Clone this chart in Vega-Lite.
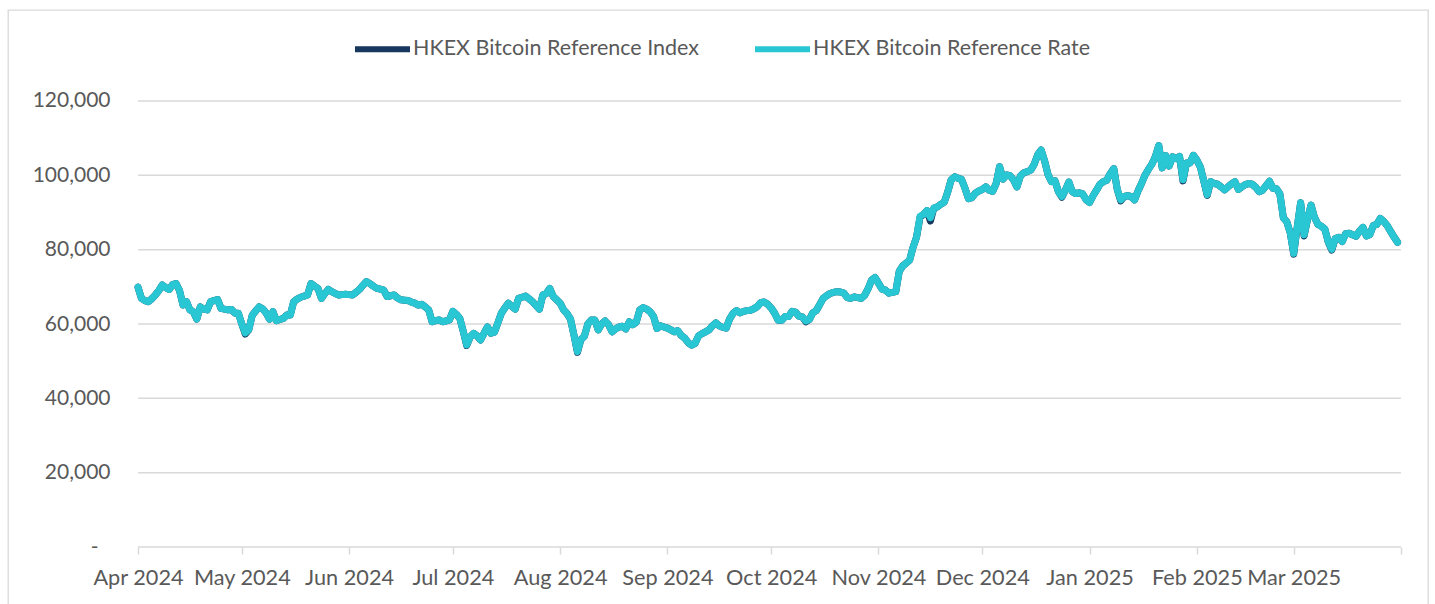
{
  "$schema": "https://vega.github.io/schema/vega-lite/v6.json",
  "autosize": "none",
  "width": 1420,
  "height": 596,
  "padding": {"left": 8, "top": 10, "right": 7, "bottom": 0},
  "background": "white",
  "config": {
    "view": {"stroke": "#D9D9D9", "strokeWidth": 1.3},
    "font": "Lato",
    "text": {"font": "Lato"}
  },
  "datasets": {
    "grid": [{"v": 0}, {"v": 20000}, {"v": 40000}, {"v": 60000}, {"v": 80000}, {"v": 100000}, {"v": 120000}],
    "btc": [
      {"date": "2024-04-01", "rate": 69900, "index": 69900},
      {"date": "2024-04-02", "rate": 66900, "index": 66900},
      {"date": "2024-04-03", "rate": 66300, "index": 66300},
      {"date": "2024-04-04", "rate": 66000, "index": 66000},
      {"date": "2024-04-05", "rate": 66800, "index": 66800},
      {"date": "2024-04-06", "rate": 67800, "index": 67800},
      {"date": "2024-04-07", "rate": 69000, "index": 69000},
      {"date": "2024-04-08", "rate": 70500, "index": 70500},
      {"date": "2024-04-09", "rate": 69800, "index": 69800},
      {"date": "2024-04-10", "rate": 69300, "index": 69300},
      {"date": "2024-04-11", "rate": 70600, "index": 70600},
      {"date": "2024-04-12", "rate": 70900, "index": 70900},
      {"date": "2024-04-13", "rate": 69000, "index": 69000},
      {"date": "2024-04-14", "rate": 65100, "index": 65100},
      {"date": "2024-04-15", "rate": 66000, "index": 66000},
      {"date": "2024-04-16", "rate": 63800, "index": 63800},
      {"date": "2024-04-17", "rate": 63300, "index": 63300},
      {"date": "2024-04-18", "rate": 61300, "index": 61300},
      {"date": "2024-04-19", "rate": 64600, "index": 64600},
      {"date": "2024-04-20", "rate": 64000, "index": 64000},
      {"date": "2024-04-21", "rate": 63800, "index": 63800},
      {"date": "2024-04-22", "rate": 66000, "index": 66000},
      {"date": "2024-04-23", "rate": 66300, "index": 66300},
      {"date": "2024-04-24", "rate": 66600, "index": 66600},
      {"date": "2024-04-25", "rate": 64200, "index": 64200},
      {"date": "2024-04-26", "rate": 64000, "index": 64000},
      {"date": "2024-04-27", "rate": 63800, "index": 63800},
      {"date": "2024-04-28", "rate": 63900, "index": 63900},
      {"date": "2024-04-29", "rate": 62900, "index": 62900},
      {"date": "2024-04-30", "rate": 62900, "index": 62900},
      {"date": "2024-05-01", "rate": 60000, "index": 60000},
      {"date": "2024-05-02", "rate": 57600, "index": 57300},
      {"date": "2024-05-03", "rate": 58400, "index": 58400},
      {"date": "2024-05-04", "rate": 62300, "index": 62300},
      {"date": "2024-05-05", "rate": 63500, "index": 63500},
      {"date": "2024-05-06", "rate": 64600, "index": 64600},
      {"date": "2024-05-07", "rate": 64100, "index": 64100},
      {"date": "2024-05-08", "rate": 63000, "index": 63000},
      {"date": "2024-05-09", "rate": 61300, "index": 61300},
      {"date": "2024-05-10", "rate": 63300, "index": 63300},
      {"date": "2024-05-11", "rate": 60900, "index": 60900},
      {"date": "2024-05-12", "rate": 61200, "index": 61200},
      {"date": "2024-05-13", "rate": 61500, "index": 61500},
      {"date": "2024-05-14", "rate": 62400, "index": 62400},
      {"date": "2024-05-15", "rate": 62400, "index": 62400},
      {"date": "2024-05-16", "rate": 66000, "index": 66000},
      {"date": "2024-05-17", "rate": 66700, "index": 66700},
      {"date": "2024-05-18", "rate": 67200, "index": 67200},
      {"date": "2024-05-19", "rate": 67500, "index": 67500},
      {"date": "2024-05-20", "rate": 67800, "index": 67800},
      {"date": "2024-05-21", "rate": 70900, "index": 70900},
      {"date": "2024-05-22", "rate": 70200, "index": 70200},
      {"date": "2024-05-23", "rate": 69600, "index": 69600},
      {"date": "2024-05-24", "rate": 66900, "index": 66900},
      {"date": "2024-05-25", "rate": 68200, "index": 68200},
      {"date": "2024-05-26", "rate": 69300, "index": 69300},
      {"date": "2024-05-27", "rate": 68700, "index": 68700},
      {"date": "2024-05-28", "rate": 68200, "index": 68200},
      {"date": "2024-05-29", "rate": 67800, "index": 67800},
      {"date": "2024-05-30", "rate": 67900, "index": 67900},
      {"date": "2024-05-31", "rate": 68000, "index": 68000},
      {"date": "2024-06-01", "rate": 67900, "index": 67900},
      {"date": "2024-06-02", "rate": 67800, "index": 67800},
      {"date": "2024-06-03", "rate": 68500, "index": 68500},
      {"date": "2024-06-04", "rate": 69300, "index": 69300},
      {"date": "2024-06-05", "rate": 70400, "index": 70400},
      {"date": "2024-06-06", "rate": 71400, "index": 71400},
      {"date": "2024-06-07", "rate": 70900, "index": 70900},
      {"date": "2024-06-08", "rate": 70200, "index": 70200},
      {"date": "2024-06-09", "rate": 69600, "index": 69600},
      {"date": "2024-06-10", "rate": 69400, "index": 69400},
      {"date": "2024-06-11", "rate": 69100, "index": 69100},
      {"date": "2024-06-12", "rate": 67400, "index": 67400},
      {"date": "2024-06-13", "rate": 67600, "index": 67600},
      {"date": "2024-06-14", "rate": 67800, "index": 67800},
      {"date": "2024-06-15", "rate": 67000, "index": 67000},
      {"date": "2024-06-16", "rate": 66500, "index": 66500},
      {"date": "2024-06-17", "rate": 66400, "index": 66400},
      {"date": "2024-06-18", "rate": 66300, "index": 66300},
      {"date": "2024-06-19", "rate": 65900, "index": 65900},
      {"date": "2024-06-20", "rate": 65600, "index": 65600},
      {"date": "2024-06-21", "rate": 65100, "index": 65100},
      {"date": "2024-06-22", "rate": 65300, "index": 65300},
      {"date": "2024-06-23", "rate": 64600, "index": 64600},
      {"date": "2024-06-24", "rate": 63800, "index": 63800},
      {"date": "2024-06-25", "rate": 60600, "index": 60600},
      {"date": "2024-06-26", "rate": 60900, "index": 60900},
      {"date": "2024-06-27", "rate": 61100, "index": 61100},
      {"date": "2024-06-28", "rate": 60600, "index": 60600},
      {"date": "2024-06-29", "rate": 60800, "index": 60800},
      {"date": "2024-06-30", "rate": 61100, "index": 61100},
      {"date": "2024-07-01", "rate": 63400, "index": 63400},
      {"date": "2024-07-02", "rate": 62600, "index": 62600},
      {"date": "2024-07-03", "rate": 61500, "index": 61500},
      {"date": "2024-07-04", "rate": 58000, "index": 58000},
      {"date": "2024-07-05", "rate": 54400, "index": 54200},
      {"date": "2024-07-06", "rate": 56500, "index": 56500},
      {"date": "2024-07-07", "rate": 57500, "index": 57500},
      {"date": "2024-07-08", "rate": 56800, "index": 56800},
      {"date": "2024-07-09", "rate": 55700, "index": 55700},
      {"date": "2024-07-10", "rate": 57500, "index": 57500},
      {"date": "2024-07-11", "rate": 59200, "index": 59200},
      {"date": "2024-07-12", "rate": 57500, "index": 57500},
      {"date": "2024-07-13", "rate": 57800, "index": 57800},
      {"date": "2024-07-14", "rate": 60300, "index": 60300},
      {"date": "2024-07-15", "rate": 62900, "index": 62900},
      {"date": "2024-07-16", "rate": 64300, "index": 64300},
      {"date": "2024-07-17", "rate": 65600, "index": 65600},
      {"date": "2024-07-18", "rate": 64800, "index": 64800},
      {"date": "2024-07-19", "rate": 64000, "index": 64000},
      {"date": "2024-07-20", "rate": 66900, "index": 66900},
      {"date": "2024-07-21", "rate": 67200, "index": 67200},
      {"date": "2024-07-22", "rate": 67500, "index": 67500},
      {"date": "2024-07-23", "rate": 66800, "index": 66800},
      {"date": "2024-07-24", "rate": 66000, "index": 66000},
      {"date": "2024-07-25", "rate": 65000, "index": 65000},
      {"date": "2024-07-26", "rate": 64000, "index": 64000},
      {"date": "2024-07-27", "rate": 67800, "index": 67800},
      {"date": "2024-07-28", "rate": 68200, "index": 68200},
      {"date": "2024-07-29", "rate": 69600, "index": 69600},
      {"date": "2024-07-30", "rate": 67400, "index": 67400},
      {"date": "2024-07-31", "rate": 66500, "index": 66500},
      {"date": "2024-08-01", "rate": 65600, "index": 65600},
      {"date": "2024-08-02", "rate": 63800, "index": 63800},
      {"date": "2024-08-03", "rate": 62800, "index": 62800},
      {"date": "2024-08-04", "rate": 61300, "index": 61300},
      {"date": "2024-08-05", "rate": 57000, "index": 57000},
      {"date": "2024-08-06", "rate": 52600, "index": 52400},
      {"date": "2024-08-07", "rate": 55800, "index": 55800},
      {"date": "2024-08-08", "rate": 56700, "index": 56700},
      {"date": "2024-08-09", "rate": 60000, "index": 60000},
      {"date": "2024-08-10", "rate": 61100, "index": 61100},
      {"date": "2024-08-11", "rate": 61100, "index": 61100},
      {"date": "2024-08-12", "rate": 58400, "index": 58400},
      {"date": "2024-08-13", "rate": 60000, "index": 60000},
      {"date": "2024-08-14", "rate": 60800, "index": 60800},
      {"date": "2024-08-15", "rate": 59800, "index": 59800},
      {"date": "2024-08-16", "rate": 57900, "index": 57900},
      {"date": "2024-08-17", "rate": 58700, "index": 58700},
      {"date": "2024-08-18", "rate": 59200, "index": 59200},
      {"date": "2024-08-19", "rate": 59400, "index": 59400},
      {"date": "2024-08-20", "rate": 58700, "index": 58700},
      {"date": "2024-08-21", "rate": 60600, "index": 60600},
      {"date": "2024-08-22", "rate": 59800, "index": 59800},
      {"date": "2024-08-23", "rate": 60500, "index": 60500},
      {"date": "2024-08-24", "rate": 63800, "index": 63800},
      {"date": "2024-08-25", "rate": 64400, "index": 64400},
      {"date": "2024-08-26", "rate": 64000, "index": 64000},
      {"date": "2024-08-27", "rate": 63300, "index": 63300},
      {"date": "2024-08-28", "rate": 62000, "index": 62000},
      {"date": "2024-08-29", "rate": 58800, "index": 58800},
      {"date": "2024-08-30", "rate": 59500, "index": 59500},
      {"date": "2024-08-31", "rate": 59200, "index": 59200},
      {"date": "2024-09-01", "rate": 58900, "index": 58900},
      {"date": "2024-09-02", "rate": 58400, "index": 58400},
      {"date": "2024-09-03", "rate": 57900, "index": 57900},
      {"date": "2024-09-04", "rate": 58200, "index": 58200},
      {"date": "2024-09-05", "rate": 56900, "index": 56900},
      {"date": "2024-09-06", "rate": 56200, "index": 56200},
      {"date": "2024-09-07", "rate": 55000, "index": 55000},
      {"date": "2024-09-08", "rate": 54300, "index": 54300},
      {"date": "2024-09-09", "rate": 54800, "index": 54800},
      {"date": "2024-09-10", "rate": 56800, "index": 56800},
      {"date": "2024-09-11", "rate": 57400, "index": 57400},
      {"date": "2024-09-12", "rate": 57900, "index": 57900},
      {"date": "2024-09-13", "rate": 58400, "index": 58400},
      {"date": "2024-09-14", "rate": 59500, "index": 59500},
      {"date": "2024-09-15", "rate": 60300, "index": 60300},
      {"date": "2024-09-16", "rate": 59500, "index": 59500},
      {"date": "2024-09-17", "rate": 59100, "index": 59100},
      {"date": "2024-09-18", "rate": 58900, "index": 58900},
      {"date": "2024-09-19", "rate": 61400, "index": 61400},
      {"date": "2024-09-20", "rate": 62900, "index": 62900},
      {"date": "2024-09-21", "rate": 63600, "index": 63600},
      {"date": "2024-09-22", "rate": 63000, "index": 63000},
      {"date": "2024-09-23", "rate": 63400, "index": 63400},
      {"date": "2024-09-24", "rate": 63600, "index": 63600},
      {"date": "2024-09-25", "rate": 63700, "index": 63700},
      {"date": "2024-09-26", "rate": 64100, "index": 64100},
      {"date": "2024-09-27", "rate": 64700, "index": 64700},
      {"date": "2024-09-28", "rate": 65800, "index": 65800},
      {"date": "2024-09-29", "rate": 65900, "index": 65900},
      {"date": "2024-09-30", "rate": 65300, "index": 65300},
      {"date": "2024-10-01", "rate": 64300, "index": 64300},
      {"date": "2024-10-02", "rate": 62900, "index": 62900},
      {"date": "2024-10-03", "rate": 61000, "index": 61000},
      {"date": "2024-10-04", "rate": 61000, "index": 61000},
      {"date": "2024-10-05", "rate": 62000, "index": 62000},
      {"date": "2024-10-06", "rate": 62000, "index": 62000},
      {"date": "2024-10-07", "rate": 63400, "index": 63400},
      {"date": "2024-10-08", "rate": 63200, "index": 63200},
      {"date": "2024-10-09", "rate": 62100, "index": 62100},
      {"date": "2024-10-10", "rate": 61900, "index": 61900},
      {"date": "2024-10-11", "rate": 60800, "index": 60600},
      {"date": "2024-10-12", "rate": 61200, "index": 61200},
      {"date": "2024-10-13", "rate": 63000, "index": 63000},
      {"date": "2024-10-14", "rate": 63600, "index": 63600},
      {"date": "2024-10-15", "rate": 65200, "index": 65200},
      {"date": "2024-10-16", "rate": 66900, "index": 66900},
      {"date": "2024-10-17", "rate": 67600, "index": 67600},
      {"date": "2024-10-18", "rate": 68200, "index": 68200},
      {"date": "2024-10-19", "rate": 68500, "index": 68500},
      {"date": "2024-10-20", "rate": 68700, "index": 68700},
      {"date": "2024-10-21", "rate": 68600, "index": 68600},
      {"date": "2024-10-22", "rate": 68300, "index": 68300},
      {"date": "2024-10-23", "rate": 67100, "index": 67100},
      {"date": "2024-10-24", "rate": 66900, "index": 66900},
      {"date": "2024-10-25", "rate": 67300, "index": 67300},
      {"date": "2024-10-26", "rate": 67100, "index": 67100},
      {"date": "2024-10-27", "rate": 66900, "index": 66900},
      {"date": "2024-10-28", "rate": 67700, "index": 67700},
      {"date": "2024-10-29", "rate": 69500, "index": 69500},
      {"date": "2024-10-30", "rate": 71800, "index": 71800},
      {"date": "2024-10-31", "rate": 72500, "index": 72500},
      {"date": "2024-11-01", "rate": 71000, "index": 71000},
      {"date": "2024-11-02", "rate": 69400, "index": 69400},
      {"date": "2024-11-03", "rate": 69100, "index": 69100},
      {"date": "2024-11-04", "rate": 68300, "index": 68300},
      {"date": "2024-11-05", "rate": 68500, "index": 68500},
      {"date": "2024-11-06", "rate": 68700, "index": 68700},
      {"date": "2024-11-07", "rate": 74200, "index": 74200},
      {"date": "2024-11-08", "rate": 75600, "index": 75600},
      {"date": "2024-11-09", "rate": 76400, "index": 76400},
      {"date": "2024-11-10", "rate": 77200, "index": 77200},
      {"date": "2024-11-11", "rate": 80700, "index": 80700},
      {"date": "2024-11-12", "rate": 83400, "index": 83400},
      {"date": "2024-11-13", "rate": 89000, "index": 88700},
      {"date": "2024-11-14", "rate": 89500, "index": 89500},
      {"date": "2024-11-15", "rate": 90500, "index": 90500},
      {"date": "2024-11-16", "rate": 88600, "index": 87700},
      {"date": "2024-11-17", "rate": 91200, "index": 91200},
      {"date": "2024-11-18", "rate": 91500, "index": 91500},
      {"date": "2024-11-19", "rate": 92200, "index": 92200},
      {"date": "2024-11-20", "rate": 92800, "index": 92800},
      {"date": "2024-11-21", "rate": 95500, "index": 95500},
      {"date": "2024-11-22", "rate": 98800, "index": 98800},
      {"date": "2024-11-23", "rate": 99600, "index": 99600},
      {"date": "2024-11-24", "rate": 99200, "index": 99200},
      {"date": "2024-11-25", "rate": 98900, "index": 98900},
      {"date": "2024-11-26", "rate": 96500, "index": 96500},
      {"date": "2024-11-27", "rate": 93700, "index": 93700},
      {"date": "2024-11-28", "rate": 94000, "index": 94000},
      {"date": "2024-11-29", "rate": 95200, "index": 95200},
      {"date": "2024-11-30", "rate": 95800, "index": 95800},
      {"date": "2024-12-01", "rate": 96200, "index": 96200},
      {"date": "2024-12-02", "rate": 96900, "index": 96900},
      {"date": "2024-12-03", "rate": 96000, "index": 96000},
      {"date": "2024-12-04", "rate": 95700, "index": 95700},
      {"date": "2024-12-05", "rate": 97800, "index": 97800},
      {"date": "2024-12-06", "rate": 102300, "index": 102300},
      {"date": "2024-12-07", "rate": 99000, "index": 99000},
      {"date": "2024-12-08", "rate": 100100, "index": 100100},
      {"date": "2024-12-09", "rate": 99900, "index": 99900},
      {"date": "2024-12-10", "rate": 98800, "index": 98800},
      {"date": "2024-12-11", "rate": 96900, "index": 96900},
      {"date": "2024-12-12", "rate": 99800, "index": 99800},
      {"date": "2024-12-13", "rate": 100700, "index": 100700},
      {"date": "2024-12-14", "rate": 101000, "index": 101000},
      {"date": "2024-12-15", "rate": 101400, "index": 101400},
      {"date": "2024-12-16", "rate": 103000, "index": 103000},
      {"date": "2024-12-17", "rate": 105500, "index": 105500},
      {"date": "2024-12-18", "rate": 106800, "index": 106800},
      {"date": "2024-12-19", "rate": 103900, "index": 103900},
      {"date": "2024-12-20", "rate": 100200, "index": 100200},
      {"date": "2024-12-21", "rate": 98300, "index": 98300},
      {"date": "2024-12-22", "rate": 98500, "index": 98500},
      {"date": "2024-12-23", "rate": 95600, "index": 95600},
      {"date": "2024-12-24", "rate": 94300, "index": 94100},
      {"date": "2024-12-25", "rate": 96000, "index": 96000},
      {"date": "2024-12-26", "rate": 98200, "index": 98200},
      {"date": "2024-12-27", "rate": 95600, "index": 95600},
      {"date": "2024-12-28", "rate": 95100, "index": 95100},
      {"date": "2024-12-29", "rate": 95300, "index": 95300},
      {"date": "2024-12-30", "rate": 95000, "index": 95000},
      {"date": "2024-12-31", "rate": 93400, "index": 93400},
      {"date": "2025-01-01", "rate": 92700, "index": 92700},
      {"date": "2025-01-02", "rate": 94500, "index": 94500},
      {"date": "2025-01-03", "rate": 96000, "index": 96000},
      {"date": "2025-01-04", "rate": 97600, "index": 97600},
      {"date": "2025-01-05", "rate": 98300, "index": 98300},
      {"date": "2025-01-06", "rate": 98700, "index": 98700},
      {"date": "2025-01-07", "rate": 100500, "index": 100500},
      {"date": "2025-01-08", "rate": 101800, "index": 101800},
      {"date": "2025-01-09", "rate": 96200, "index": 96200},
      {"date": "2025-01-10", "rate": 93400, "index": 93100},
      {"date": "2025-01-11", "rate": 94300, "index": 94300},
      {"date": "2025-01-12", "rate": 94500, "index": 94500},
      {"date": "2025-01-13", "rate": 94300, "index": 94300},
      {"date": "2025-01-14", "rate": 93400, "index": 93400},
      {"date": "2025-01-15", "rate": 95800, "index": 95800},
      {"date": "2025-01-16", "rate": 97800, "index": 97800},
      {"date": "2025-01-17", "rate": 100000, "index": 100000},
      {"date": "2025-01-18", "rate": 101600, "index": 101600},
      {"date": "2025-01-19", "rate": 103000, "index": 103000},
      {"date": "2025-01-20", "rate": 105000, "index": 105000},
      {"date": "2025-01-21", "rate": 108000, "index": 108000},
      {"date": "2025-01-22", "rate": 102000, "index": 102000},
      {"date": "2025-01-23", "rate": 105300, "index": 105300},
      {"date": "2025-01-24", "rate": 102500, "index": 102500},
      {"date": "2025-01-25", "rate": 105000, "index": 105000},
      {"date": "2025-01-26", "rate": 104500, "index": 104500},
      {"date": "2025-01-27", "rate": 105100, "index": 105100},
      {"date": "2025-01-28", "rate": 98800, "index": 98500},
      {"date": "2025-01-29", "rate": 103300, "index": 103300},
      {"date": "2025-01-30", "rate": 103300, "index": 103300},
      {"date": "2025-01-31", "rate": 105400, "index": 105400},
      {"date": "2025-02-01", "rate": 104100, "index": 104100},
      {"date": "2025-02-02", "rate": 102300, "index": 102300},
      {"date": "2025-02-03", "rate": 98500, "index": 98500},
      {"date": "2025-02-04", "rate": 94800, "index": 94600},
      {"date": "2025-02-05", "rate": 98300, "index": 98300},
      {"date": "2025-02-06", "rate": 97800, "index": 97800},
      {"date": "2025-02-07", "rate": 97600, "index": 97600},
      {"date": "2025-02-08", "rate": 96900, "index": 96900},
      {"date": "2025-02-09", "rate": 96100, "index": 96100},
      {"date": "2025-02-10", "rate": 96900, "index": 96900},
      {"date": "2025-02-11", "rate": 97700, "index": 97700},
      {"date": "2025-02-12", "rate": 98300, "index": 98300},
      {"date": "2025-02-13", "rate": 96200, "index": 96200},
      {"date": "2025-02-14", "rate": 96900, "index": 96900},
      {"date": "2025-02-15", "rate": 97500, "index": 97500},
      {"date": "2025-02-16", "rate": 97800, "index": 97800},
      {"date": "2025-02-17", "rate": 97600, "index": 97600},
      {"date": "2025-02-18", "rate": 96800, "index": 96800},
      {"date": "2025-02-19", "rate": 95600, "index": 95600},
      {"date": "2025-02-20", "rate": 96000, "index": 96000},
      {"date": "2025-02-21", "rate": 97200, "index": 97200},
      {"date": "2025-02-22", "rate": 98400, "index": 98400},
      {"date": "2025-02-23", "rate": 96500, "index": 96500},
      {"date": "2025-02-24", "rate": 96400, "index": 96400},
      {"date": "2025-02-25", "rate": 95000, "index": 95000},
      {"date": "2025-02-26", "rate": 88600, "index": 88600},
      {"date": "2025-02-27", "rate": 87500, "index": 87500},
      {"date": "2025-02-28", "rate": 84500, "index": 84500},
      {"date": "2025-03-01", "rate": 79000, "index": 78800},
      {"date": "2025-03-02", "rate": 86000, "index": 86000},
      {"date": "2025-03-03", "rate": 92600, "index": 92600},
      {"date": "2025-03-04", "rate": 84000, "index": 83700},
      {"date": "2025-03-05", "rate": 88200, "index": 88200},
      {"date": "2025-03-06", "rate": 92000, "index": 92000},
      {"date": "2025-03-07", "rate": 88700, "index": 88700},
      {"date": "2025-03-08", "rate": 86800, "index": 86800},
      {"date": "2025-03-09", "rate": 86300, "index": 86300},
      {"date": "2025-03-10", "rate": 85500, "index": 85500},
      {"date": "2025-03-11", "rate": 82000, "index": 82000},
      {"date": "2025-03-12", "rate": 80100, "index": 79900},
      {"date": "2025-03-13", "rate": 83000, "index": 83000},
      {"date": "2025-03-14", "rate": 83300, "index": 83300},
      {"date": "2025-03-15", "rate": 82200, "index": 82200},
      {"date": "2025-03-16", "rate": 84300, "index": 84300},
      {"date": "2025-03-17", "rate": 84400, "index": 84400},
      {"date": "2025-03-18", "rate": 84000, "index": 84000},
      {"date": "2025-03-19", "rate": 83600, "index": 83600},
      {"date": "2025-03-20", "rate": 85000, "index": 85000},
      {"date": "2025-03-21", "rate": 86000, "index": 86000},
      {"date": "2025-03-22", "rate": 83700, "index": 83700},
      {"date": "2025-03-23", "rate": 84100, "index": 84100},
      {"date": "2025-03-24", "rate": 86500, "index": 86500},
      {"date": "2025-03-25", "rate": 86800, "index": 86800},
      {"date": "2025-03-26", "rate": 88400, "index": 88400},
      {"date": "2025-03-27", "rate": 87600, "index": 87600},
      {"date": "2025-03-28", "rate": 86500, "index": 86500},
      {"date": "2025-03-29", "rate": 84900, "index": 84900},
      {"date": "2025-03-30", "rate": 83400, "index": 83400},
      {"date": "2025-03-31", "rate": 82000, "index": 82000}
    ]
  },
  "layer": [
    {
      "data": {"name": "grid"},
      "mark": {"type": "rule", "color": "#D9D9D9", "strokeWidth": 1.5},
      "encoding": {
        "y": {
          "field": "v", "type": "quantitative", "title": null,
          "scale": {"domain": [-15874, 144484], "nice": false, "zero": false},
          "axis": {
            "values": [0, 20000, 40000, 60000, 80000, 100000, 120000],
            "domain": false, "ticks": false, "tickSize": 0, "grid": false,
            "labelPadding": {"condition": {"test": "datum.value == 0", "value": 12}, "value": 0},
            "offset": -102,
            "labelFontSize": 21, "labelColor": "#595959", "labelFont": "Lato",
            "labelExpr": "datum.value == 0 ? '-' : format(datum.value, ',')"
          }
        },
        "x": {
          "datum": {"year": 2024, "month": 4, "date": 1, "utc": true}, "type": "temporal", "title": null,
          "scale": {"type": "utc", "domain": [1708683638400, 1744139779200]},
          "axis": {
            "values": [
              {"year": 2024, "month": 4, "date": 1, "utc": true},
              {"year": 2024, "month": 5, "date": 1, "utc": true},
              {"year": 2024, "month": 6, "date": 1, "utc": true},
              {"year": 2024, "month": 7, "date": 1, "utc": true},
              {"year": 2024, "month": 8, "date": 1, "utc": true},
              {"year": 2024, "month": 9, "date": 1, "utc": true},
              {"year": 2024, "month": 10, "date": 1, "utc": true},
              {"year": 2024, "month": 11, "date": 1, "utc": true},
              {"year": 2024, "month": 12, "date": 1, "utc": true},
              {"year": 2025, "month": 1, "date": 1, "utc": true},
              {"year": 2025, "month": 2, "date": 1, "utc": true},
              {"year": 2025, "month": 3, "date": 1, "utc": true},
              {"year": 2025, "month": 4, "date": 1, "utc": true}
            ],
            "labelExpr": "datum.value >= 1743465600000 ? '' : utcFormat(datum.value, '%b %Y')",
            "domain": false, "grid": false,
            "tickColor": "#D9D9D9", "tickSize": 7, "tickWidth": 1.5,
            "labelPadding": 13, "offset": -59, "labelFlush": false, "labelOverlap": false,
            "labelFontSize": 21.7, "labelColor": "#595959", "labelFont": "Lato"
          }
        },
        "x2": {"datum": {"year": 2025, "month": 4, "date": 1, "utc": true}}
      }
    },
    {
      "data": {"name": "btc"},
      "mark": {"type": "line", "strokeWidth": 7, "strokeCap": "round", "strokeJoin": "round"},
      "encoding": {
        "x": {"field": "date", "type": "temporal", "title": null, "scale": {"type": "utc", "domain": [1708683638400, 1744139779200]}},
        "y": {"field": "index", "type": "quantitative", "title": null},
        "color": {
          "datum": "HKEX Bitcoin Reference Index", "type": "nominal",
          "scale": {"domain": ["HKEX Bitcoin Reference Index", "HKEX Bitcoin Reference Rate"], "range": ["#17375E", "#29C6D3"]},
          "legend": {
            "orient": "none", "legendX": 344, "legendY": 8.5, "direction": "horizontal", "title": null,
            "symbolType": "stroke", "symbolSize": 3025, "symbolStrokeWidth": 6,
            "labelFontSize": 21.5, "labelColor": "#595959", "labelFont": "Lato", "labelOffset": 0,
            "columnPadding": 44, "padding": 0, "labelLimit": 500
          }
        }
      }
    },
    {
      "data": {"name": "btc"},
      "mark": {"type": "line", "strokeWidth": 7, "strokeCap": "round", "strokeJoin": "round"},
      "encoding": {
        "x": {"field": "date", "type": "temporal", "title": null, "scale": {"type": "utc", "domain": [1708683638400, 1744139779200]}},
        "y": {"field": "rate", "type": "quantitative", "title": null},
        "color": {"datum": "HKEX Bitcoin Reference Rate", "type": "nominal"}
      }
    }
  ]
}
